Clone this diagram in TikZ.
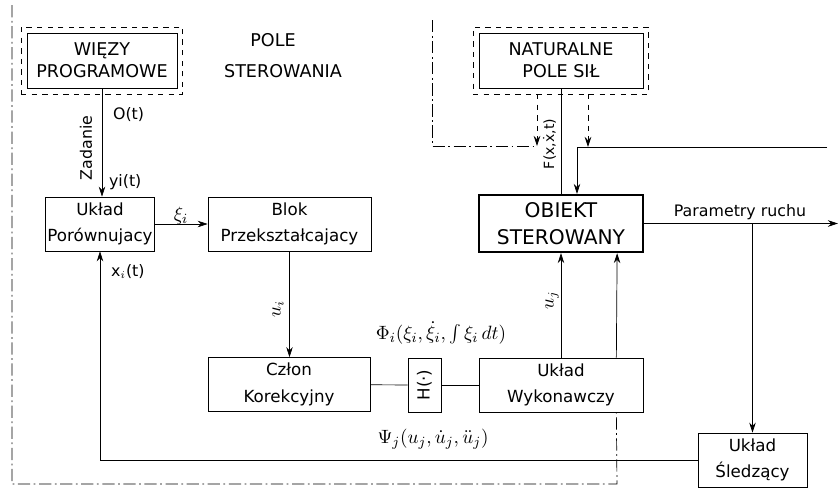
\documentclass[tikz,border=0pt]{standalone}
\usepackage{fontspec}
\setmainfont{DejaVu Sans}
\usetikzlibrary{arrows.meta,positioning,calc,fit}

\begin{document}
\begin{tikzpicture}[x=0.02cm, y=-0.02cm,
  box/.style={draw, rectangle, minimum height=1.08cm, align=center, inner sep=1pt, font=\fontsize{9.5}{15}\selectfont},
  capbox/.style={draw, rectangle, minimum width=3.1cm, minimum height=1.1cm, align=center, inner sep=1pt, font=\fontsize{10}{12.5}\selectfont},
  frame/.style={draw, dashed, inner sep=0.11cm},
  arr/.style={-{Stealth[length=2mm,width=1.3mm]}},
  field/.style={dash pattern=on 7pt off 2pt on 1pt off 2pt},
  lbl/.style={font=\fontsize{9}{10}\selectfont, inner sep=1pt}
]
\useasboundingbox (0,0) rectangle (840,488);

\node[capbox, minimum width=3.0cm] (wiezy) at (102,60.5) {WIĘZY\\PROGRAMOWE};
\node[frame, fit=(wiezy)] (wiezyf) {};
\node[capbox, minimum width=3.28cm] (natural) at (561,60.5) {NATURALNE\\POLE SIŁ};
\node[frame, fit=(natural)] (naturalf) {};

\node[box, minimum width=2.16cm] (por) at (100,224) {Układ\\Porównujacy};
\node[box, minimum width=3.26cm] (blok) at (289.5,224) {Blok\\Przekształcajacy};
\node[box, minimum width=3.28cm, minimum height=1.14cm, line width=1.3pt, font=\fontsize{11.5}{15}\selectfont] (obiekt) at (561,223.5) {OBIEKT\\STEROWANY};
\node[box, minimum width=3.24cm] (czlon) at (289,384.5) {Człon\\Korekcyjny};
\node[box, minimum width=0.66cm, inner sep=0pt] (hbox) at (424.5,385) {\rotatebox{90}{H(·)}};
\node[box, minimum width=3.28cm] (wyk) at (561,385) {Układ\\Wykonawczy};
\node[box, minimum width=2.18cm] (sled) at (752.5,460) {Układ\\Śledzący};

\coordinate (out) at (838,223.5);
\coordinate (tapin) at (577,147);
\coordinate (rend) at (827,147);
\coordinate (fcorner) at (537,146);
\coordinate (ftop) at (432,20);

% labels
\node[font=\fontsize{10}{11}\selectfont] (pole) at (273,40) {POLE};
\node[font=\fontsize{10}{11}\selectfont] (sterowania) at (283,71) {STEROWANIA};
\node[lbl, anchor=west] (lblO) at (111,115) {O(t)};
\node[lbl, rotate=90] (lblzad) at (86,148) {Zadanie};
\node[lbl, anchor=west] (lbly) at (107,182) {yi(t)};
\node[lbl, font=\fontsize{11}{12}\selectfont] (lblxi) at (181,216) {$\xi_i$};
\node[lbl, anchor=west] (lblx) at (109,272) {x$_i$(t)};
\node[lbl, rotate=90, font=\fontsize{10.5}{12}\selectfont] (lblui) at (278,309) {$u_i$};
\node[lbl, font=\fontsize{11}{12}\selectfont] (lblphi) at (441,333) {$\Phi_i(\xi_i,\dot\xi_i,\int\xi_i\,dt)$};
\node[lbl, font=\fontsize{11}{12}\selectfont] (lblpsi) at (433,439) {$\Psi_j(u_j,\dot u_j,\ddot u_j)$};
\node[lbl, rotate=90, font=\fontsize{10.5}{12}\selectfont] (lbluj) at (552,300) {$u_j$};
\node[lbl, rotate=90, font=\fontsize{8}{9}\selectfont] (lblF) at (549.5,144) {F(x,$\dot{\mathrm{x}}$,t)};
\node[lbl] (lblpar) at (740,212) {Parametry ruchu};

% connectors
\draw[arr] (wiezy.south) -- (wiezy.south |- por.north);
\draw[arr] (por) -- (blok);
\draw[arr] (blok.south) -- (blok.south |- czlon.north);
\draw (czlon) -- (hbox);
\draw (hbox) -- (wyk);
\draw[arr] (wyk) -- (obiekt);
\draw[arr] ([xshift=-0.54cm]wyk.north east) -- ([xshift=-0.54cm]obiekt.south east);
\draw (natural) -- (obiekt);
\draw[arr] (obiekt) -- (out);
\draw[arr] (sled.north |- obiekt.east) -- (sled.north);
\draw[arr] (sled.west) -| (por.south);
\draw (rend) -- (tapin);
\draw[arr] (tapin) -- (tapin |- obiekt.north);
\draw[dashed, arr] (naturalf.south -| 588,0) -- (tapin -| 588,0);
\draw[dashed, arr] (naturalf.south -| fcorner) -- (fcorner);

% pola
\draw[field] (ftop) |- (fcorner);
\draw[field] (12,5) -- (12,484) -- (617,484) -- ([xshift=-0.54cm]wyk.south east);
\end{tikzpicture}
\end{document}
